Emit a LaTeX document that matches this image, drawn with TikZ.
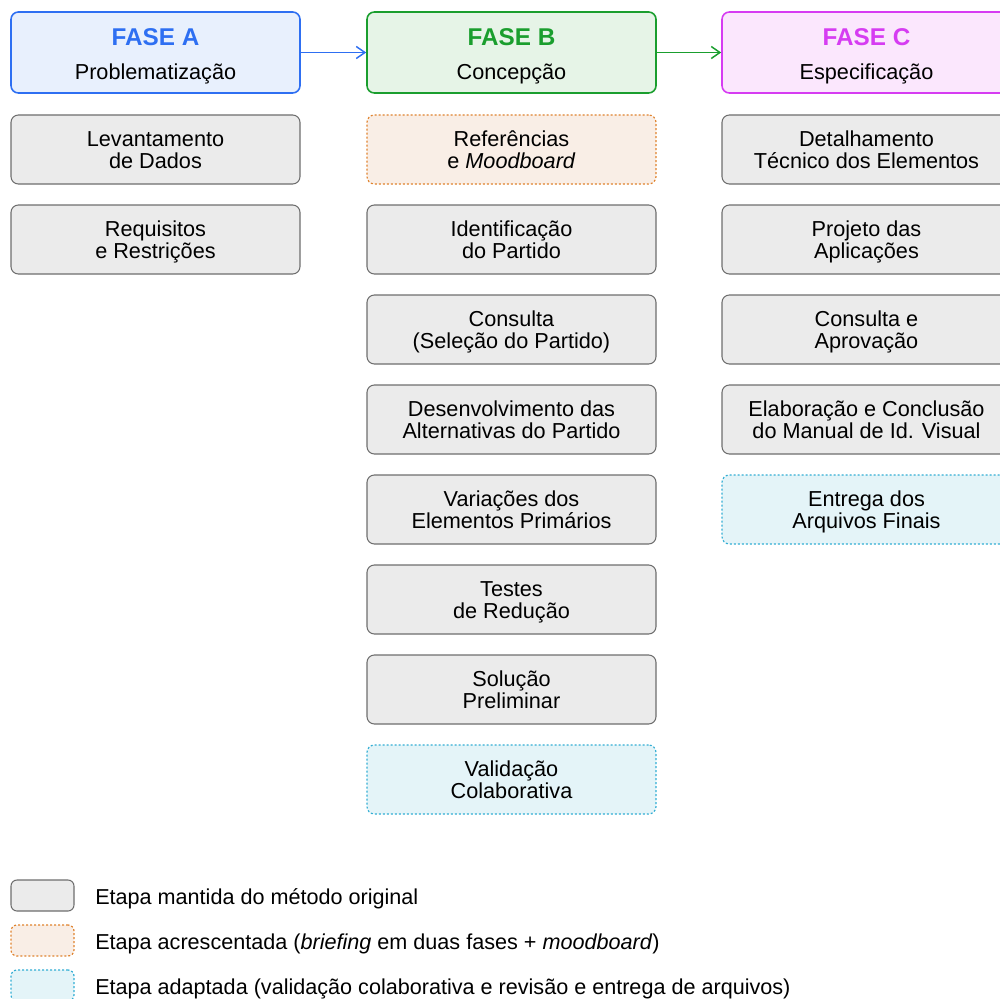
\documentclass[tikz,border=0pt]{standalone}
\usepackage{fontspec}
\setmainfont{Liberation Sans}
\usetikzlibrary{arrows.meta}
\definecolor{blueA}{HTML}{2E6FF2}
\definecolor{blueF}{HTML}{E8F0FD}
\definecolor{greenB}{HTML}{1A9E2E}
\definecolor{greenF}{HTML}{E6F4E7}
\definecolor{magC}{HTML}{D63CF2}
\definecolor{magF}{HTML}{FBE7FD}
\definecolor{grayD}{HTML}{6E6E6E}
\definecolor{grayF}{HTML}{EBEBEB}
\definecolor{orgD}{HTML}{E0832E}
\definecolor{orgF}{HTML}{F9EEE6}
\definecolor{cyaD}{HTML}{33AED4}
\definecolor{cyaF}{HTML}{E4F4F8}
\newcommand\tstrut{\rule{0pt}{16.5pt}}
\newcommand\bstrut{\rule[-4pt]{0pt}{0pt}}
\newcommand\htstrut{\rule{0pt}{19.1pt}}
\newcommand\hbstrut{\rule[-2.5pt]{0pt}{0pt}}
\begin{document}
\begin{tikzpicture}[x=0.75pt,y=-0.75pt,
  box/.style={rounded corners=5.5pt, minimum width=216.75pt, minimum height=51.75pt,
    align=center, inner sep=0pt, text=black,
    font=\fontsize{16.25}{16.6}\selectfont},
  stepbox/.style={box, draw=grayD, fill=grayF, line width=0.8pt},
  addbox/.style={box, draw=orgD, fill=orgF, line width=0.9pt, dash pattern=on 1.5pt off 1.5pt},
  adaptbox/.style={box, draw=cyaD, fill=cyaF, line width=0.9pt, dash pattern=on 1.5pt off 1.5pt},
  header/.style={rounded corners=5.5pt, minimum width=216.75pt, minimum height=60.75pt,
    align=center, inner sep=0pt, text=black, line width=1.2pt,
    font=\fontsize{16.25}{16.4}\selectfont},
  phasearrow/.style={line width=1.1pt, -{Straight Barb[length=6.5pt,width=9pt,line width=1.1pt]}},
  legbox/.style={rounded corners=4.5pt, minimum width=47.25pt, minimum height=23.25pt, inner sep=0pt},
  legtext/.style={anchor=base west, inner sep=0pt, font=\fontsize{16.2}{16.4}\selectfont, text=black}
]
\useasboundingbox (0,0) rectangle (1000,999);
\clip (0,0) rectangle (1000,999);

% headers
\node[header, draw=blueA, fill=blueF] (ha) at (155.5,52.5)
  {\htstrut{\fontsize{18.2}{18}\selectfont\bfseries\color{blueA}FASE A}\\[9.1pt]Problematização\hbstrut};
\node[header, draw=greenB, fill=greenF] (hb) at (511.5,52.5)
  {\htstrut{\fontsize{18.2}{18}\selectfont\bfseries\color{greenB}FASE B}\\[9.1pt]Concepção\hbstrut};
\node[header, draw=magC, fill=magF] (hc) at (866.5,52.5)
  {\htstrut{\fontsize{18.2}{18}\selectfont\bfseries\color{magC}FASE C}\\[9.1pt]Especificação\hbstrut};

\draw[phasearrow, blueA] (ha.east) -- (hb.west);
\draw[phasearrow, greenB] (hb.east) -- (hc.west);

% phase A
\node[stepbox] (a1) at (155.5,149.5) {\tstrut Levantamento\\de Dados\bstrut};
\node[stepbox] (a2) at (155.5,239.5) {\tstrut Requisitos\\e Restrições\bstrut};

% phase B
\node[addbox]   (b1) at (511.5,149.5) {\tstrut Referências\\e \textit{Moodboard}\bstrut};
\node[stepbox]  (b2) at (511.5,239.5) {\tstrut Identificação\\do Partido\bstrut};
\node[stepbox]  (b3) at (511.5,329.5) {\tstrut Consulta\\(Seleção do Partido)\bstrut};
\node[stepbox]  (b4) at (511.5,419.5) {\tstrut Desenvolvimento das\\Alternativas do Partido\bstrut};
\node[stepbox]  (b5) at (511.5,509.5) {\tstrut Variações dos\\Elementos Primários\bstrut};
\node[stepbox]  (b6) at (511.5,599.5) {\tstrut Testes\\de Redução\bstrut};
\node[stepbox]  (b7) at (511.5,689.5) {\tstrut Solução\\Preliminar\bstrut};
\node[adaptbox] (b8) at (511.5,779.5) {\tstrut Validação\\Colaborativa\bstrut};

% phase C
\node[stepbox]  (c1) at (866.5,149.5) {\tstrut Detalhamento\\Técnico dos Elementos\bstrut};
\node[stepbox]  (c2) at (866.5,239.5) {\tstrut Projeto das\\Aplicações\bstrut};
\node[stepbox]  (c3) at (866.5,329.5) {\tstrut Consulta e\\Aprovação\bstrut};
\node[stepbox]  (c4) at (866.5,419.5) {\tstrut Elaboração e Conclusão\\do Manual de Id. Visual\bstrut};
\node[adaptbox] (c5) at (866.5,509.5) {\tstrut Entrega dos\\Arquivos Finais\bstrut};

% legend
\node[legbox, draw=grayD, fill=grayF, line width=0.8pt] (lg1) at (42.5,895.5) {};
\node[legbox, draw=orgD, fill=orgF, line width=0.9pt, dash pattern=on 1.5pt off 1.5pt] (lg2) at (42.5,940.5) {};
\node[legbox, draw=cyaD, fill=cyaF, line width=0.9pt, dash pattern=on 1.5pt off 1.5pt] (lg3) at (42.5,985.5) {};
\node[legtext] (lt1) at (95,904) {Etapa mantida do método original};
\node[legtext] (lt2) at (95,949) {Etapa acrescentada (\textit{briefing} em duas fases + \textit{moodboard})};
\node[legtext] (lt3) at (95,994) {Etapa adaptada (validação colaborativa e revisão e entrega de arquivos)};
\end{tikzpicture}
\end{document}
